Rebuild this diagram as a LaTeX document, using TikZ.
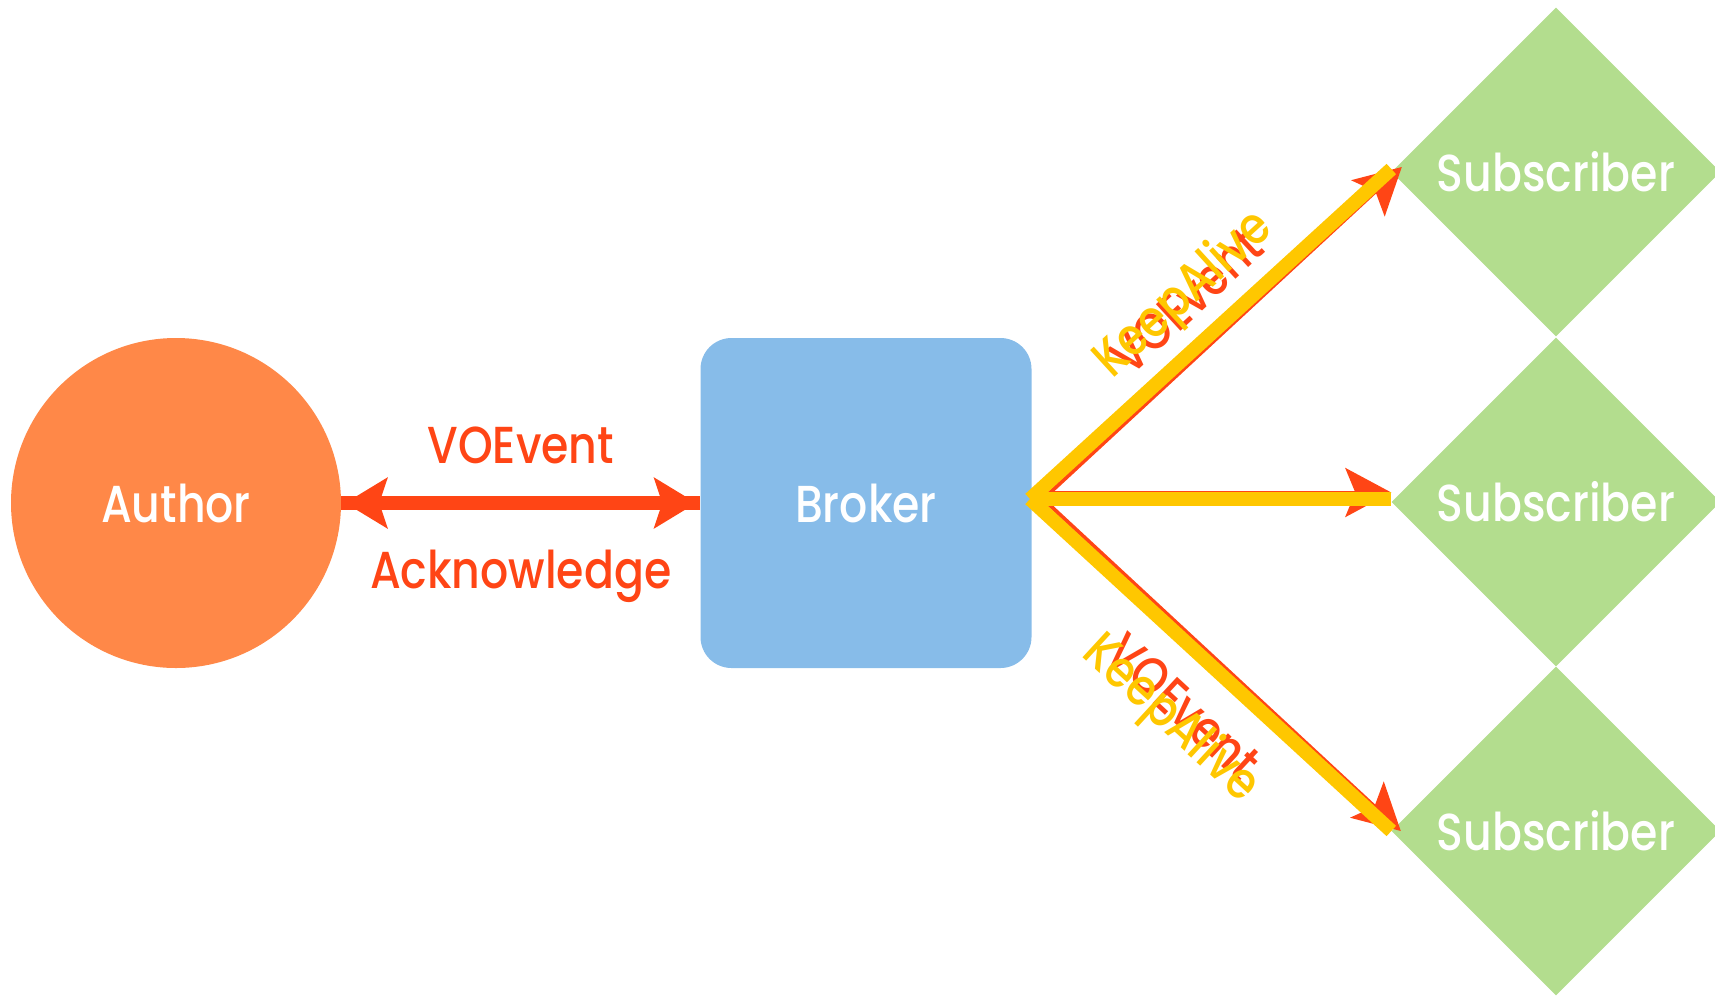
\documentclass[tikz,border=0pt]{standalone}
\usepackage{fontspec}
\setmainfont{Poppins}[UprightFont=* Medium,FakeStretch=0.85]
\usepackage{tikz}
\usetikzlibrary{arrows.meta}
\usetikzlibrary{shapes.geometric}
\definecolor{authorfill}{HTML}{FF8848}
\definecolor{brokerfill}{HTML}{87BCE9}
\definecolor{subfill}{HTML}{B3DD8E}
\definecolor{voered}{HTML}{FF4515}
\definecolor{kayellow}{HTML}{FFC700}

\begin{document}
\begin{tikzpicture}[x=1pt,y=-1pt,
    bigtext/.style={font=\fontsize{52}{56}\selectfont},
    shapetext/.style={bigtext,text=white,inner sep=0pt},
    author/.style={circle,fill=authorfill,minimum size=330,shapetext},
    broker/.style={rectangle,rounded corners=31,fill=brokerfill,minimum width=331,minimum height=330,shapetext},
    subscriber/.style={diamond,aspect=1,fill=subfill,minimum width=329,minimum height=329,shapetext},
    ackline/.style={voered,line width=14},
    voeline/.style={voered,line width=4,-{Stealth[length=46,width=49,inset=10]}},
    kaline/.style={kayellow,line width=14},
    voelabel/.style={bigtext,text=voered,inner sep=0pt,sloped,anchor=center},
    kalabel/.style={bigtext,text=kayellow,inner sep=0pt,sloped,anchor=center}]
    \useasboundingbox (0,0) rectangle (1715,997);

    % the three kinds of node
    \node[author] (author) at (176,503) {Author};
    \node[broker] (broker) at (866,503) {Broker};
    \node[subscriber] (sub1) at (1556,172) {Subscriber};
    \node[subscriber] (sub2) at (1556,502) {Subscriber};
    \node[subscriber] (sub3) at (1556,831) {Subscriber};

    % author <-> broker
    \draw[ackline] (author.east) -- (broker.west);
    \draw[ackline,{Stealth[length=42,width=50,inset=8]}-{Stealth[length=42,width=50,inset=8]},
        shorten <=4, shorten >=4] (author.east) -- (broker.west)
        node[midway,above=32,inner sep=0pt,bigtext,text=voered] (voe) {VOEvent}
        node[midway,below=40,inner sep=0pt,bigtext,text=voered] (ack) {Acknowledge};

    % broker -> subscribers, VOEvent
    \coordinate (voestart) at (1043,499);
    \draw[voeline] (voestart) -- ([xshift=10.5,yshift=5]sub1.west)
        node[voelabel,pos=0.49,yshift=48] (voe1) {VOEvent};
    \draw[voeline] ([xshift=7,yshift=6.5]voestart) -- ([yshift=9.5]sub2.west);
    \draw[voeline] (voestart) -- ([xshift=9.5]sub3.west)
        node[voelabel,pos=0.5,yshift=-57] (voe3) {VOEvent};

    % broker -> subscribers, KeepAlive
    \coordinate (kastart) at (1030,499);
    \draw[kaline] (kastart) -- ([yshift=3]sub1.west)
        node[kalabel,pos=0.513,yshift=46] (ka1) {KeepAlive};
    \draw[kaline] (kastart) -- ([yshift=3]sub2.west);
    \draw[kaline] (kastart) -- (sub3.west)
        node[kalabel,pos=0.515,yshift=-68] (ka3) {KeepAlive};
\end{tikzpicture}
\end{document}
